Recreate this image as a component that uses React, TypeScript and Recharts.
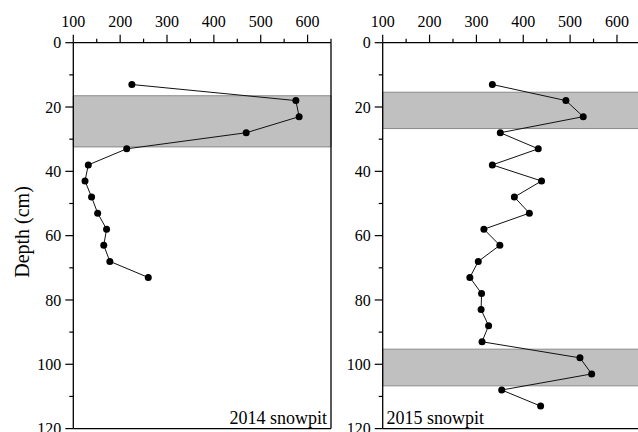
import { ScatterChart, Scatter, XAxis, YAxis, ReferenceArea, ReferenceLine } from 'recharts';

const xTicks = [100, 150, 200, 250, 300, 350, 400, 450, 500, 550, 600, 650];
const yTicks = [0, 10, 20, 30, 40, 50, 60, 70, 80, 90, 100, 110, 120];

const depth2014 = [13, 18, 23, 28, 33, 38, 43, 48, 53, 58, 63, 68, 73];
const value2014 = [225, 575, 582, 469, 214, 132, 125, 139, 152, 171, 165, 178, 260];
const bands2014 = [[16.5, 32.4]];

const depth2015 = [13, 18, 23, 28, 33, 38, 43, 48, 53, 58, 63, 68, 73, 78, 83, 88, 93, 98, 103, 108, 113];
const value2015 = [334, 491, 528, 351, 432, 334, 439, 381, 413, 316, 350, 304, 286, 311, 310, 326, 312, 521, 546, 354, 437];
const bands2015 = [[15.4, 26.7], [95.3, 106.7]];

const FONT = '"Liberation Serif", "Times New Roman", serif';

const toPoints = (depths: number[], values: number[]) =>
  depths.map((d, i) => ({ depth: d, value: values[i] }));

// ticks are drawn by hand: major ones get a label, minor ones a shorter mark
const XTick = (props: any) => {
  const { x, y, payload } = props;
  const major = payload.value % 100 === 0;
  return (
    <g>
      <line x1={x} x2={x} y1={y} y2={y - (major ? 8 : 4)} stroke="#000" strokeWidth={1.2} />
      {major && (
        <text x={x} y={y - 16} textAnchor="middle" fontSize={16} fontFamily={FONT} fill="#000">
          {payload.value}
        </text>
      )}
    </g>
  );
};

const YTick = (props: any) => {
  const { x, y, payload } = props;
  const major = payload.value % 20 === 0;
  return (
    <g>
      <line x1={x} x2={x - (major ? 8 : 4)} y1={y} y2={y} stroke="#000" strokeWidth={1.2} />
      {major && (
        <text x={x - 12} y={y} dy="0.35em" textAnchor="end" fontSize={16} fontFamily={FONT} fill="#000">
          {payload.value}
        </text>
      )}
    </g>
  );
};

const Dot = (props: any) => <circle cx={props.cx} cy={props.cy} r={3.5} fill="#000" />;

function Panel({
  depths,
  values,
  bands,
  width,
  marginLeft,
  marginRight,
  title,
  titleX,
  titleAnchor,
  showYLabel,
}: {
  depths: number[];
  values: number[];
  bands: number[][];
  width: number;
  marginLeft: number;
  marginRight: number;
  title: string;
  titleX: number;
  titleAnchor: 'start' | 'end';
  showYLabel: boolean;
}) {
  return (
    <ScatterChart
      width={width}
      height={440}
      margin={{ top: 12.7, right: marginRight, bottom: 11.4, left: marginLeft }}
      style={{ fontFamily: FONT }}
    >
      <XAxis
        type="number"
        dataKey="value"
        orientation="top"
        domain={[100, 650]}
        ticks={xTicks}
        interval={0}
        height={30}
        tickSize={0}
        tickMargin={0}
        tick={(p: any) => <XTick {...p} />}
        tickLine={false}
        axisLine={{ stroke: '#000', strokeWidth: 1.3 }}
        allowDataOverflow
      />
      <YAxis
        type="number"
        dataKey="depth"
        reversed
        domain={[0, 120]}
        ticks={yTicks}
        interval={0}
        width={60}
        tickSize={0}
        tickMargin={0}
        tick={(p: any) => <YTick {...p} />}
        tickLine={false}
        axisLine={{ stroke: '#000', strokeWidth: 1.3 }}
        allowDataOverflow
      />
      {bands.map(([a, b], i) => (
        <ReferenceArea
          key={i}
          y1={a}
          y2={b}
          x1={100}
          x2={650}
          fill="#c0c0c0"
          fillOpacity={1}
          stroke="#8a8a8a"
          strokeWidth={1}
        />
      ))}
      <ReferenceLine x={650} stroke="#000" strokeWidth={1.3} />
      <ReferenceLine y={120} stroke="#000" strokeWidth={1.3} />
      <Scatter
        data={toPoints(depths, values)}
        line={{ stroke: '#111', strokeWidth: 1 }}
        lineType="joint"
        shape={<Dot />}
        isAnimationActive={false}
      />
      {showYLabel && (
        <text
          x={22}
          y={232}
          transform="rotate(-90 22 232)"
          textAnchor="middle"
          dy="0.35em"
          fontSize={20}
          fontFamily={FONT}
          fill="#000"
        >
          Depth (cm)
        </text>
      )}
      <text x={titleX} y={424} textAnchor={titleAnchor} fontSize={18} fontFamily={FONT} fill="#000">
        {title}
      </text>
    </ScatterChart>
  );
}

export default function App() {
  return (
    <div
      style={{
        position: 'absolute',
        left: 0,
        top: 0,
        width: 638,
        height: 432,
        overflow: 'hidden',
        background: '#fff',
      }}
    >
      <div style={{ position: 'absolute', left: 0, top: 0 }}>
        <Panel
          depths={depth2014}
          values={value2014}
          bands={bands2014}
          width={340}
          marginLeft={13.3}
          marginRight={9}
          title="2014 snowpit"
          titleX={327}
          titleAnchor="end"
          showYLabel
        />
      </div>
      <div style={{ position: 'absolute', left: 320, top: 0 }}>
        <Panel
          depths={depth2015}
          values={value2015}
          bands={bands2015}
          width={330}
          marginLeft={2.7}
          marginRight={9.6}
          title="2015 snowpit"
          titleX={66.5}
          titleAnchor="start"
          showYLabel={false}
        />
      </div>
    </div>
  );
}
